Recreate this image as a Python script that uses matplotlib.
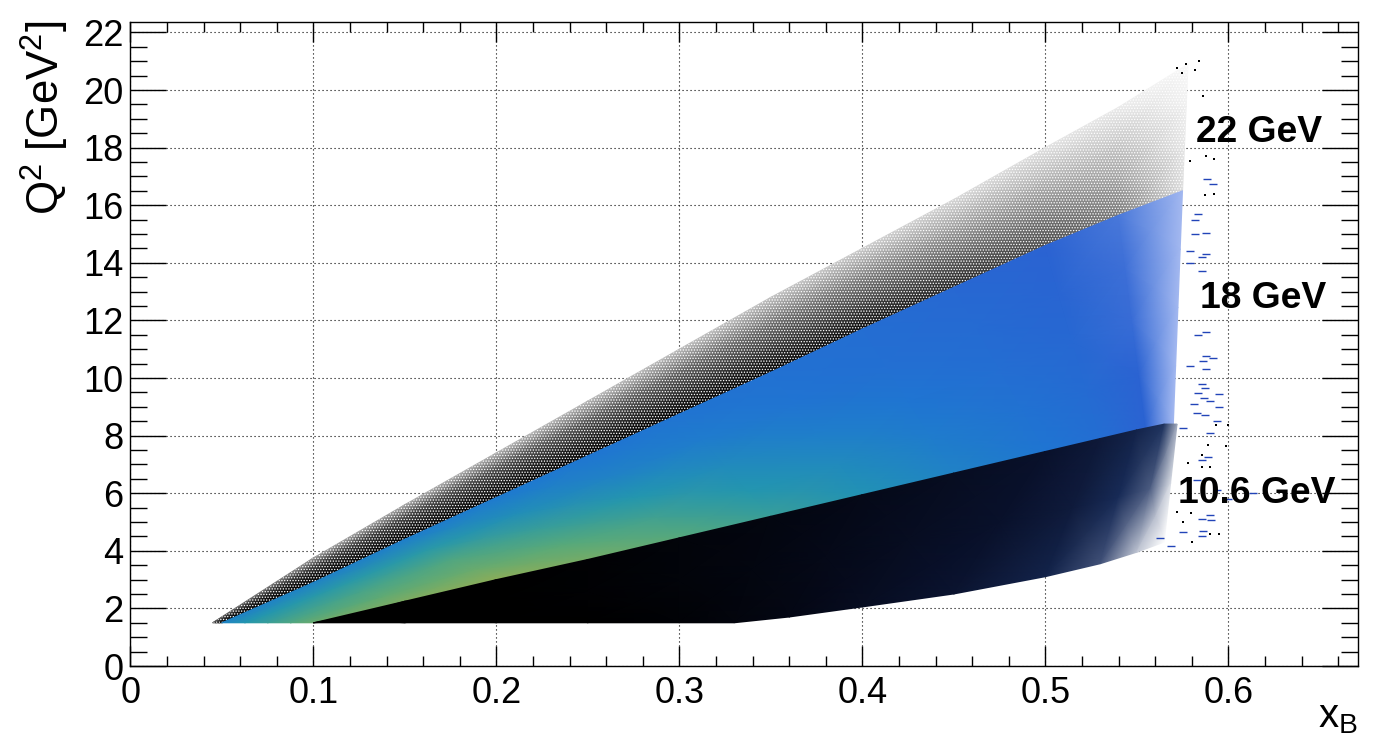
import matplotlib
matplotlib.use('Agg')
import matplotlib.pyplot as plt
import numpy as np
from matplotlib.colors import LinearSegmentedColormap

plt.rcParams['font.family'] = ['Liberation Sans', 'DejaVu Sans']
plt.rcParams['mathtext.fontset'] = 'custom'
plt.rcParams['mathtext.rm'] = 'Liberation Sans'
plt.rcParams['mathtext.it'] = 'Liberation Sans'
plt.rcParams['mathtext.bf'] = 'Liberation Sans:bold'
plt.rcParams['hatch.linewidth'] = .6

# band edges: (xB, Q2) along lower and upper side
# 22 GeV
x22_low = [.05, .10, .15, .20, .25, .30, .35, .40, .45, .50, .54, .575]
q22_low = [1.5, 2.9, 4.4, 5.85, 7.3, 8.75, 10.2, 11.7, 13.15, 14.6, 15.65, 16.5]
x22_high = [.045, .10, .15, .20, .25, .30, .35, .40, .45, .50, .54, .578]
q22_high = [1.5, 3.75, 5.6, 7.4, 9.2, 11.0, 12.8, 14.5, 16.2, 18.0, 19.4, 20.9]
lev22 = [[1.0, .95, .85, .70],
         [1.0, .90, .75, .40],
         [1.0, .88, .72, .35],
         [1.0, .86, .68, .30],
         [1.0, .84, .64, .28],
         [1.0, .82, .60, .26],
         [.98, .78, .55, .24],
         [.95, .72, .48, .20],
         [.85, .62, .38, .16],
         [.70, .50, .30, .12],
         [.52, .36, .22, .08],
         [.14, .10, .06, .02]]

# 18 GeV
x18_low = [.10, .15, .20, .25, .30, .35, .40, .45, .50, .53, .555, .57]
q18_low = [1.5, 2.25, 3.0, 3.7, 4.45, 5.2, 5.95, 6.7, 7.45, 7.9, 8.25, 8.4]
x18_high = [.05, .10, .15, .20, .25, .30, .35, .40, .45, .50, .54, .575]
q18_high = [1.5, 2.9, 4.4, 5.85, 7.3, 8.75, 10.2, 11.7, 13.15, 14.6, 15.65, 16.5]
lev18 = [[.78, .72, .66, .60, .50],
         [.82, .76, .70, .62, .50],
         [.84, .78, .72, .62, .48],
         [.80, .74, .66, .56, .46],
         [.74, .68, .60, .50, .44],
         [.66, .60, .54, .47, .42],
         [.58, .54, .48, .42, .40],
         [.50, .47, .43, .39, .38],
         [.43, .41, .38, .36, .34],
         [.38, .36, .34, .32, .30],
         [.30, .30, .28, .27, .25],
         [.12, .12, .12, .12, .12]]

# 10.6 GeV
x10_low = [.10, .15, .20, .25, .30, .33, .36, .40, .45, .50, .53, .55, .565]
q10_low = [1.5, 1.5, 1.5, 1.5, 1.5, 1.5, 1.7, 2.05, 2.5, 3.1, 3.55, 3.95, 4.3]
x10_high = [.10, .15, .20, .25, .30, .35, .40, .45, .50, .53, .55, .565, .572]
q10_high = [1.5, 2.25, 3.0, 3.7, 4.45, 5.2, 5.95, 6.7, 7.45, 7.9, 8.2, 8.4, 8.4]
lev10 = [[0, 0, 0],
         [0, 0, 0],
         [0, 0, 0],
         [0, .03, .03],
         [.05, .08, .08],
         [.10, .12, .12],
         [.15, .18, .18],
         [.25, .25, .25],
         [.35, .32, .32],
         [.50, .42, .40],
         [.72, .58, .50],
         [.92, .76, .62],
         [1, .95, .88]]

# single entries past the right edge of the bands
blue_x = [.5885, .5915, .5835, .582, .588, .582, .579, .588, .5855, .579, .5855,
          .5835, .588, .588, .5915, .586, .579, .588, .5855, .5875, .595, .5835,
          .5865, .59, .581, .595, .583, .5875, .594, .5755, .59, .589, .5855,
          .583, .594, .6135, .60, .59, .5855, .5905, .586, .5855, .5755, .5625, .5685]
blue_q = [16.9, 16.75, 15.7, 15.5, 15.05, 15.0, 14.4, 14.3, 14.2, 14.0, 13.7,
          11.5, 11.6, 10.76, 10.7, 10.6, 10.4, 10.3, 9.8, 9.65, 9.45, 9.47,
          9.3, 9.2, 9.1, 8.98, 8.8, 8.7, 8.5, 8.25, 8.1, 7.25, 7.15,
          6.45, 6.1, 6.0, 5.8, 5.25, 5.1, 5.07, 4.7, 4.5, 4.65, 4.45, 4.17]
black_x = [.584, .577, .572, .582, .5745, .586, .588, .592, .579, .587, .592,
           .5935, .600, .589, .599, .578, .5855, .59, .5855, .5795, .595, .59, .58, .575, .572]
black_q = [21.0, 20.9, 20.75, 20.7, 20.6, 19.8, 17.7, 17.6, 17.55, 16.35, 16.4,
           8.37, 8.37, 7.67, 7.63, 7.04, 7.33, 6.9, 6.9, 5.3, 4.58, 4.6, 4.3, 5.0, 5.35]

labels = ['22 GeV', '18 GeV', '10.6 GeV']
label_x = [.5824, .5845, .5725]
label_q = [18.2, 12.43, 5.65]

W, H = 1391, 754
fig = plt.figure(figsize=(W / 100, H / 100), dpi=100)
ax = fig.add_axes([130.3 / W, (H - 666) / H, 1228 / W, 643.7 / H])


def band(xl, ql, xh, qh, lev, cmap, z):
    f = np.linspace(0, 1, np.shape(lev)[1])[None, :]
    xl, ql, xh, qh = [np.array(a)[:, None] for a in (xl, ql, xh, qh)]
    ax.pcolormesh(xl + (xh - xl) * f, ql + (qh - ql) * f, np.array(lev),
                  shading='gouraud', cmap=cmap, vmin=0, vmax=1, zorder=z)


gray = LinearSegmentedColormap.from_list('g', ['white', 'black'])
bird = LinearSegmentedColormap.from_list('b', [
    (0, '#ffffff'), (.15, '#8aa5ec'), (.3, '#2a62d2'), (.45, '#1e78d2'),
    (.6, '#2396af'), (.75, '#5aaa78'), (.9, '#aaaf46'), (1, '#e6b41e')])
dark = LinearSegmentedColormap.from_list('d', [
    (0, '#000000'), (.3, '#080f28'), (.6, '#192d5a'), (.8, '#5a698c'), (1, '#ffffff')])

band(x22_low, q22_low, x22_high, q22_high, lev22, gray, 2)
# stipple so the sparse black band reads as dots
ax.fill(x22_low + x22_high[::-1], q22_low + q22_high[::-1], facecolor='none',
        edgecolor='white', hatch='......', linewidth=0, zorder=2.5)
band(x18_low, q18_low, x18_high, q18_high, lev18, bird, 3)
band(x10_low, q10_low, x10_high, q10_high, lev10, dark, 4)

ax.scatter(blue_x, blue_q, marker='_', s=28, linewidths=1, color='#2244b8', zorder=5)
ax.scatter(black_x, black_q, marker='s', s=1.2, linewidths=0, color='black', zorder=5)

for t, x, q in zip(labels, label_x, label_q):
    ax.text(x, q, t, fontsize=26.8, fontweight='bold', color='black', zorder=6)

ax.set_xlim(0, 1228 / 1830)
ax.set_ylim(0, 643.7 / 28.8)
ax.set_xticks([0, .1, .2, .3, .4, .5, .6])
ax.set_xticklabels(['0', '0.1', '0.2', '0.3', '0.4', '0.5', '0.6'])
ax.set_xticks(np.arange(0, .67, .02), minor=True)
ax.set_yticks(np.arange(0, 23, 2))
ax.set_yticks(np.arange(0, 22.4, .5), minor=True)
ax.tick_params(axis='x', which='major', direction='in', top=True, length=14.4, width=1, labelsize=26, pad=7)
ax.tick_params(axis='x', which='minor', direction='in', top=True, length=7.2, width=1)
ax.tick_params(axis='y', which='major', direction='in', right=True, length=26, width=1, labelsize=26, pad=5)
ax.tick_params(axis='y', which='minor', direction='in', right=True, length=12.2, width=1)
ax.grid(True, which='major', color='black', linestyle=(0, (1, 2.6)), linewidth=.8, zorder=1)
ax.set_axisbelow(True)
for s in ax.spines.values():
    s.set_linewidth(1)

fig.text(1358 / W, (H - 727) / H, r'x$_{\mathrm{B}}$', fontsize=29, ha='right', va='baseline')
fig.text(45 / W, (H - 21) / H, r'Q$^{2}$ [GeV$^{2}$]', fontsize=31.5, rotation=90,
         ha='center', va='top', rotation_mode='default')

fig.savefig('out.png', dpi=100)
